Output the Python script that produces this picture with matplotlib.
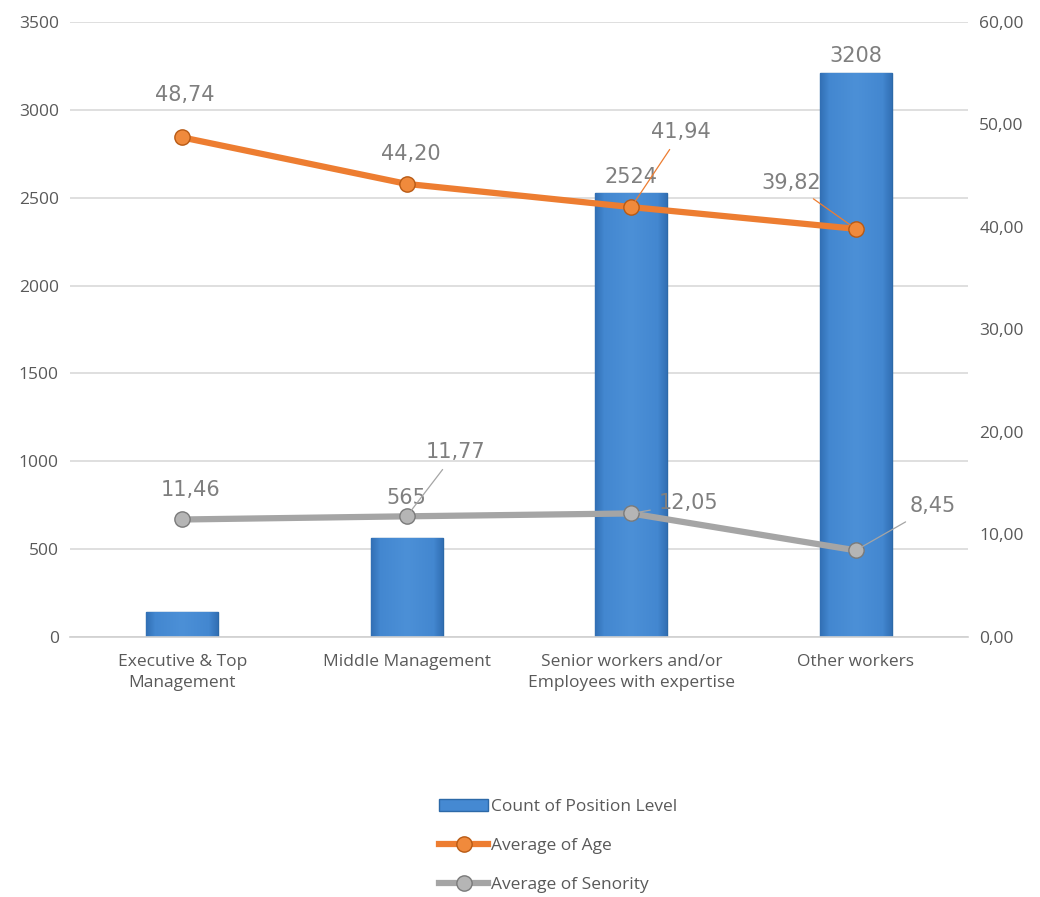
import matplotlib

matplotlib.use("Agg")
import matplotlib.pyplot as plt  # noqa: E402
import numpy as np  # noqa: E402
from matplotlib.colors import LinearSegmentedColormap  # noqa: E402
from matplotlib.ticker import FuncFormatter, MultipleLocator  # noqa: E402

categories = [
    "Executive & Top\nManagement",
    "Middle Management",
    "Senior workers and/or\nEmployees with expertise",
    "Other workers",
]
count_position = [142, 565, 2524, 3208]
avg_age = [48.74, 44.20, 41.94, 39.82]
avg_seniority = [11.46, 11.77, 12.05, 8.45]

TEXT = "#595959"
LABEL = "#7f7f7f"
BLUE = "#4589d2"
ORANGE = "#ed7d31"
GRAY = "#a5a5a5"


def comma(v, _pos=None):
    return f"{v:.2f}".replace(".", ",")


fig = plt.figure(figsize=(10.4, 8.97), dpi=100)
ax = fig.add_axes([0.0673, 0.2899, 0.8635, 0.6856])
ax2 = ax.twinx()

x = list(range(len(categories)))

# bars (left axis), slightly darker at the sides
bars = ax.bar(x, count_position, width=0.32, color=BLUE, edgecolor="#2c69a8",
              linewidth=1.0, zorder=2, label="Count of Position Level")
shade = LinearSegmentedColormap.from_list(
    "bar", [(0, "#3270b5"), (0.12, "#4387d0"), (0.5, "#4c90d7"), (0.88, "#4387d0"), (1, "#3270b5")])
grad = np.linspace(0, 1, 64).reshape(1, -1)
for b in bars:
    im = ax.imshow(grad, cmap=shade, aspect="auto", zorder=2.5,
                   extent=(b.get_x(), b.get_x() + b.get_width(), 0, b.get_height()))
    im.set_clip_path(b)

bar_offsets = [None, 40, 16, 17]
for xi, v, off in zip(x, count_position, bar_offsets):
    if off is None:
        continue
    ax.annotate(str(v), (xi, v), xytext=(0, off), textcoords="offset pixels",
                ha="center", va="center", fontsize=15, color=LABEL, zorder=5)

ax.set_xlim(-0.5, len(categories) - 0.5)
ax.set_ylim(0, 3500)
ax.yaxis.set_major_locator(MultipleLocator(500))
ax.grid(axis="y", color="#d9d9d9", linewidth=1.2, zorder=0)
ax.set_axisbelow(True)
ax.set_xticks(x)
ax.set_xticklabels(categories, fontsize=12.5, color=TEXT, family="Open Sans", linespacing=1.45)
ax.tick_params(axis="both", length=0, labelcolor=TEXT)
ax.tick_params(axis="x", pad=12)
ax.tick_params(axis="y", pad=8)
for lbl in ax.get_yticklabels():
    lbl.set_fontsize(12.5)
    lbl.set_family("Open Sans")
for s in ["top", "right", "left"]:
    ax.spines[s].set_visible(False)
ax.spines["bottom"].set_color("#d0d0d0")
ax.spines["bottom"].set_linewidth(1.2)

# lines (right axis)
ax2.plot(x, avg_age, color=ORANGE, linewidth=4.5, marker="o", markersize=11,
         markerfacecolor="#f08a3c", markeredgecolor="#b85a14", markeredgewidth=1,
         zorder=4, label="Average of Age")
ax2.plot(x, avg_seniority, color=GRAY, linewidth=4.5, marker="o", markersize=11,
         markerfacecolor="#b5b5b5", markeredgecolor="#7a7a7a", markeredgewidth=1,
         zorder=4, label="Average of Senority")
ax2.set_ylim(0, 60)
ax2.yaxis.set_major_locator(MultipleLocator(10))
ax2.yaxis.set_major_formatter(FuncFormatter(comma))
ax2.tick_params(axis="y", length=0, labelcolor=TEXT, labelsize=12.5, pad=8)
for lbl in ax2.get_yticklabels():
    lbl.set_family("Open Sans")
for s in ["top", "right", "left", "bottom"]:
    ax2.spines[s].set_visible(False)

age_offsets = [(3, 42, False), (4, 30, False), (50, 75, True), (-65, 46, True)]
sen_offsets = [(8, 29, False), (49, 64, True), (57, 10, True), (77, 44, True)]
for series, offsets, lc in [(avg_age, age_offsets, ORANGE), (avg_seniority, sen_offsets, GRAY)]:
    for xi, v, (dx, dy, leader) in zip(x, series, offsets):
        props = dict(arrowstyle="-", color=lc, linewidth=0.9, shrinkA=4, shrinkB=5) if leader else None
        ax2.annotate(comma(v), (xi, v), xytext=(dx, dy), textcoords="offset pixels",
                     ha="center", va="center", fontsize=15, color=LABEL,
                     arrowprops=props, zorder=6)

h1, l1 = ax.get_legend_handles_labels()
h2, l2 = ax2.get_legend_handles_labels()
fig.legend(h1 + h2, l1 + l2, loc="center", bbox_to_anchor=(0.537, 0.057),
           frameon=False, labelcolor=TEXT, handlelength=2.8,
           handletextpad=0.2, labelspacing=1.3, prop={"family": "Open Sans", "size": 12.5})

fig.savefig("out.png", dpi=100, facecolor="white")
